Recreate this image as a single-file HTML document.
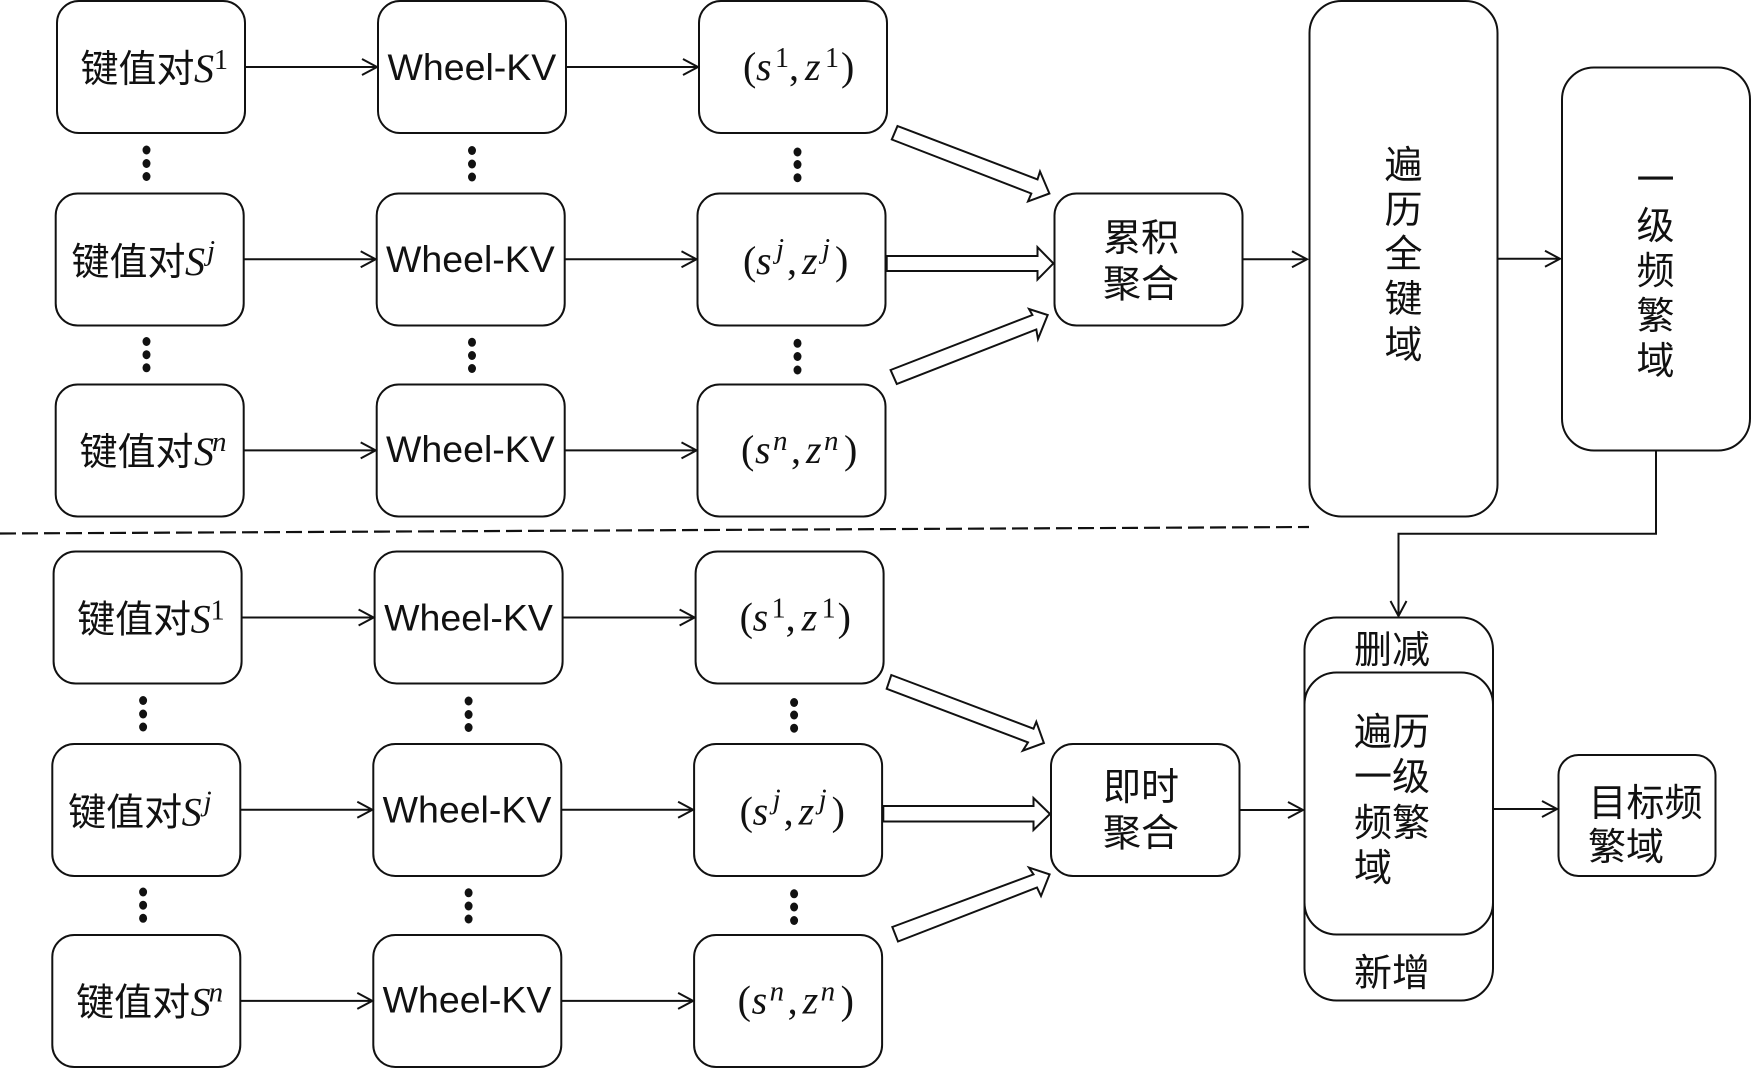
<!DOCTYPE html>
<html lang="zh">
<head>
<meta charset="utf-8">
<title>Diagram</title>
<style>
html,body{margin:0;padding:0;background:#fff}
svg{display:block}
.b{fill:#fff;stroke:#111;stroke-width:2}
.l{fill:none;stroke:#111;stroke-width:2}
.h{fill:#fff;stroke:#111;stroke-width:2;stroke-linejoin:miter}
.c{font-family:"Liberation Sans","Noto Sans CJK SC",sans-serif;font-size:38px;fill:#111}
.w{font-family:"Liberation Sans",sans-serif;font-size:37.5px;fill:#111}
.m{font-family:"Liberation Serif",serif;font-style:italic;font-size:40px;fill:#111}
.s{font-family:"Liberation Serif",serif;font-style:italic;font-size:29px;fill:#111}
.p{font-family:"Liberation Serif",serif;font-size:40px;fill:#111}
.n{font-family:"Liberation Serif",serif;font-size:28px;fill:#111}
</style>
</head>
<body>
<svg width="1752" height="1069" viewBox="0 0 1752 1069" xmlns="http://www.w3.org/2000/svg">
<rect width="1752" height="1069" fill="#fff"/>

<!-- upper block -->
<g id="upper">
<rect class="b" x="57" y="1" width="188" height="132" rx="22"/>
<rect class="b" x="378" y="1" width="188" height="132" rx="22"/>
<rect class="b" x="699" y="1" width="188" height="132" rx="22"/>
<rect class="b" x="55.7" y="193.5" width="188" height="132" rx="22"/>
<rect class="b" x="376.700" y="193.5" width="188" height="132" rx="22"/>
<rect class="b" x="697.500" y="193.5" width="188" height="132" rx="22"/>
<rect class="b" x="55.7" y="384.5" width="188" height="132" rx="22"/>
<rect class="b" x="376.700" y="384.5" width="188" height="132" rx="22"/>
<rect class="b" x="697.500" y="384.5" width="188" height="132" rx="22"/>

<path class="l" d="M245 67H377M362 59l15 8l-15 8M566 67H698M683 59l15 8l-15 8"/>
<path class="l" d="M244 259.3H375.700M360.700 251.300l15 8l-15 8M565 259.300H696.500M681.500 251.300l15 8l-15 8"/>
<path class="l" d="M244 450.400H375.700M360.700 442.400l15 8l-15 8M565 450.400H696.500M681.500 442.400l15 8l-15 8"/>

<g fill="#111">
<ellipse cx="146.500" cy="150" rx="4" ry="4.500"/><ellipse cx="146.500" cy="163.500" rx="4" ry="4.500"/><ellipse cx="146.500" cy="176.500" rx="4" ry="4.500"/>
<ellipse cx="472" cy="150.500" rx="4" ry="4.500"/><ellipse cx="472" cy="164" rx="4" ry="4.500"/><ellipse cx="472" cy="177" rx="4" ry="4.500"/>
<ellipse cx="797.500" cy="152" rx="4" ry="4.500"/><ellipse cx="797.500" cy="164.500" rx="4" ry="4.500"/><ellipse cx="797.500" cy="177.700" rx="4" ry="4.500"/>
<ellipse cx="146.500" cy="341.500" rx="4" ry="4.500"/><ellipse cx="146.500" cy="354.700" rx="4" ry="4.500"/><ellipse cx="146.500" cy="367.800" rx="4" ry="4.500"/>
<ellipse cx="472" cy="342.300" rx="4" ry="4.500"/><ellipse cx="472" cy="355.500" rx="4" ry="4.500"/><ellipse cx="472" cy="368.500" rx="4" ry="4.500"/>
<ellipse cx="797.500" cy="343.300" rx="4" ry="4.500"/><ellipse cx="797.500" cy="356.500" rx="4" ry="4.500"/><ellipse cx="797.500" cy="370" rx="4" ry="4.500"/>
</g>

<text class="c" x="80.500" y="82">键值对</text><text class="m" x="194" y="82">S</text><text class="n" x="214" y="69">1</text>
<text class="c" x="71.500" y="275">键值对</text><text class="m" x="185" y="275">S</text><text class="s" x="207" y="260">j</text>
<text class="c" x="79.500" y="465">键值对</text><text class="m" x="194" y="465">S</text><text class="s" x="212" y="451">n</text>

<text class="w" x="387.500" y="80">Wheel-KV</text>
<text class="w" x="386" y="272">Wheel-KV</text>
<text class="w" x="386" y="462">Wheel-KV</text>

<text class="p" x="743" y="80">(</text><text class="m" x="756" y="80">s</text><text class="n" x="775" y="67">1</text><text class="p" x="789" y="80">,</text><text class="m" x="805" y="80">z</text><text class="n" x="825" y="67">1</text><text class="p" x="841" y="80">)</text>
<text class="p" x="743" y="274">(</text><text class="m" x="756" y="274">s</text><text class="s" x="776" y="258">j</text><text class="p" x="787" y="274">,</text><text class="m" x="802" y="274">z</text><text class="s" x="822" y="258">j</text><text class="p" x="835" y="274">)</text>
<text class="p" x="741" y="463">(</text><text class="m" x="755" y="463">s</text><text class="s" x="773" y="450">n</text><text class="p" x="791" y="463">,</text><text class="m" x="806" y="463">z</text><text class="s" x="824" y="450">n</text><text class="p" x="844" y="463">)</text>
</g>

<!-- lower block -->
<g id="lower" transform="translate(-3.4,550.5)">
<rect class="b" x="57" y="1" width="188" height="132" rx="22"/>
<rect class="b" x="378" y="1" width="188" height="132" rx="22"/>
<rect class="b" x="699" y="1" width="188" height="132" rx="22"/>
<rect class="b" x="55.7" y="193.5" width="188" height="132" rx="22"/>
<rect class="b" x="376.700" y="193.5" width="188" height="132" rx="22"/>
<rect class="b" x="697.500" y="193.5" width="188" height="132" rx="22"/>
<rect class="b" x="55.7" y="384.5" width="188" height="132" rx="22"/>
<rect class="b" x="376.700" y="384.5" width="188" height="132" rx="22"/>
<rect class="b" x="697.500" y="384.5" width="188" height="132" rx="22"/>

<path class="l" d="M245 67H377M362 59l15 8l-15 8M566 67H698M683 59l15 8l-15 8"/>
<path class="l" d="M244 259.3H375.700M360.700 251.300l15 8l-15 8M565 259.300H696.500M681.500 251.300l15 8l-15 8"/>
<path class="l" d="M244 450.400H375.700M360.700 442.400l15 8l-15 8M565 450.400H696.500M681.500 442.400l15 8l-15 8"/>

<g fill="#111">
<ellipse cx="146.500" cy="150" rx="4" ry="4.500"/><ellipse cx="146.500" cy="163.500" rx="4" ry="4.500"/><ellipse cx="146.500" cy="176.500" rx="4" ry="4.500"/>
<ellipse cx="472" cy="150.500" rx="4" ry="4.500"/><ellipse cx="472" cy="164" rx="4" ry="4.500"/><ellipse cx="472" cy="177" rx="4" ry="4.500"/>
<ellipse cx="797.500" cy="152" rx="4" ry="4.500"/><ellipse cx="797.500" cy="164.500" rx="4" ry="4.500"/><ellipse cx="797.500" cy="177.700" rx="4" ry="4.500"/>
<ellipse cx="146.500" cy="341.500" rx="4" ry="4.500"/><ellipse cx="146.500" cy="354.700" rx="4" ry="4.500"/><ellipse cx="146.500" cy="367.800" rx="4" ry="4.500"/>
<ellipse cx="472" cy="342.300" rx="4" ry="4.500"/><ellipse cx="472" cy="355.500" rx="4" ry="4.500"/><ellipse cx="472" cy="368.500" rx="4" ry="4.500"/>
<ellipse cx="797.500" cy="343.300" rx="4" ry="4.500"/><ellipse cx="797.500" cy="356.500" rx="4" ry="4.500"/><ellipse cx="797.500" cy="370" rx="4" ry="4.500"/>
</g>

<text class="c" x="80.500" y="82">键值对</text><text class="m" x="194" y="82">S</text><text class="n" x="214" y="69">1</text>
<text class="c" x="71.500" y="275">键值对</text><text class="m" x="185" y="275">S</text><text class="s" x="207" y="260">j</text>
<text class="c" x="79.500" y="465">键值对</text><text class="m" x="194" y="465">S</text><text class="s" x="212" y="451">n</text>

<text class="w" x="387.500" y="80">Wheel-KV</text>
<text class="w" x="386" y="272">Wheel-KV</text>
<text class="w" x="386" y="462">Wheel-KV</text>

<text class="p" x="743" y="80">(</text><text class="m" x="756" y="80">s</text><text class="n" x="775" y="67">1</text><text class="p" x="789" y="80">,</text><text class="m" x="805" y="80">z</text><text class="n" x="825" y="67">1</text><text class="p" x="841" y="80">)</text>
<text class="p" x="743" y="274">(</text><text class="m" x="756" y="274">s</text><text class="s" x="776" y="258">j</text><text class="p" x="787" y="274">,</text><text class="m" x="802" y="274">z</text><text class="s" x="822" y="258">j</text><text class="p" x="835" y="274">)</text>
<text class="p" x="741" y="463">(</text><text class="m" x="755" y="463">s</text><text class="s" x="773" y="450">n</text><text class="p" x="791" y="463">,</text><text class="m" x="806" y="463">z</text><text class="s" x="824" y="450">n</text><text class="p" x="844" y="463">)</text>
</g>

<!-- dashed divider -->
<line x1="0" y1="533.500" x2="1309" y2="527" stroke="#111" stroke-width="2.200" stroke-dasharray="16 6"/>

<!-- hollow block arrows upper -->
<polygon class="h" points="897.500,126 1037.500,179.400 1040,171.500 1049.400,193.500 1028,201.400 1031.300,193.500 891.800,139.500"/>
<polygon class="h" points="886.700,256 1037.500,256 1037.500,247.200 1053.400,263.400 1037.500,279.600 1037.500,271 886.700,271"/>
<polygon class="h" points="890.600,370 1032.400,315 1029,309 1047.700,315 1038,339 1036.300,329.500 896.800,384"/>

<!-- hollow block arrows lower -->
<polygon class="h" points="891.300,675 1033.500,728.700 1036.300,721.800 1043.900,743 1022.800,750.700 1028,742.400 886.700,688.800"/>
<polygon class="h" points="883.300,806 1033.500,806 1033.500,798 1050,814 1033.500,830 1033.500,821.500 883.300,821.500"/>
<polygon class="h" points="892.300,927 1033.500,874.400 1029,867.600 1049.600,874.400 1041,896 1037,887.500 898,941.500"/>

<!-- right boxes upper -->
<rect class="b" x="1054.500" y="193.500" width="188" height="132" rx="22"/>
<rect class="b" x="1309.500" y="1" width="188" height="515.500" rx="32"/>
<rect class="b" x="1562" y="67.500" width="188" height="383" rx="32"/>

<path class="l" d="M1243 259.300H1307M1292 251.300l15 8l-15 8"/>
<path class="l" d="M1498 258.800H1560M1545 250.800l15 8l-15 8"/>
<path class="l" d="M1656 451V533.700H1398.500V616M1390.500 601l8 15l8-15"/>

<!-- right boxes lower -->
<rect class="b" x="1051" y="744" width="188.500" height="132" rx="22"/>
<rect class="b" x="1304.500" y="617.500" width="188.500" height="383" rx="32"/>
<rect class="b" x="1304.500" y="672.500" width="188.500" height="262" rx="32"/>
<rect class="b" x="1558.500" y="755" width="157" height="121" rx="20"/>

<path class="l" d="M1240 810H1303M1288 802l15 8l-15 8"/>
<path class="l" d="M1493.500 809H1557M1542 801l15 8l-15 8"/>

<!-- right labels -->
<text class="c" x="1103" y="251">累积</text>
<text class="c" x="1103" y="297">聚合</text>

<text class="c" x="1384.500" y="178">遍</text>
<text class="c" x="1384.500" y="223">历</text>
<text class="c" x="1384.500" y="267">全</text>
<text class="c" x="1384.500" y="312">键</text>
<text class="c" x="1384.500" y="358">域</text>

<text class="c" x="1636.500" y="193">一</text>
<text class="c" x="1636.500" y="239">级</text>
<text class="c" x="1636.500" y="284">频</text>
<text class="c" x="1636.500" y="329">繁</text>
<text class="c" x="1636.500" y="374">域</text>

<text class="c" x="1103" y="800">即时</text>
<text class="c" x="1103" y="846">聚合</text>

<text class="c" x="1354" y="663">删减</text>
<text class="c" x="1354" y="745">遍历</text>
<text class="c" x="1354" y="790">一级</text>
<text class="c" x="1354" y="836">频繁</text>
<text class="c" x="1354" y="881">域</text>
<text class="c" x="1354" y="986">新增</text>

<text class="c" x="1588.500" y="816">目标频</text>
<text class="c" x="1588" y="860">繁域</text>
</svg>
</body>
</html>
